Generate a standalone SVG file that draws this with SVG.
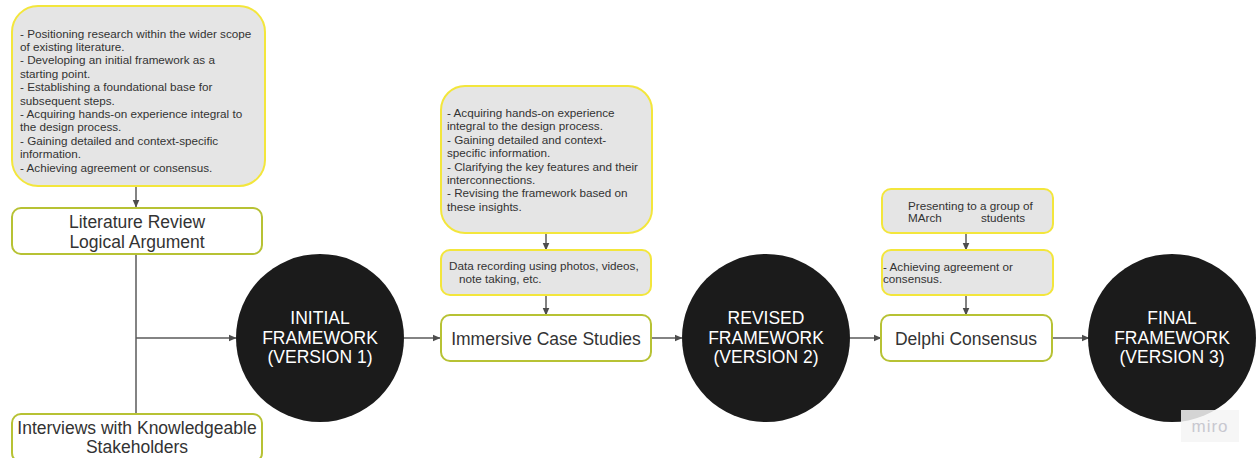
<svg xmlns="http://www.w3.org/2000/svg" width="1256" height="458" viewBox="0 0 1256 458">
  <defs>
    <marker id="arrow" viewBox="0 0 8 8" refX="7.5" refY="4" markerWidth="8" markerHeight="8" markerUnits="userSpaceOnUse" orient="auto">
      <path d="M0,0.5 L8,4 L0,7.5 Z" fill="#4d4d4d"/>
    </marker>
  </defs>
  <style>
    text { font-family: "Liberation Sans", Arial, sans-serif; }
    .note { fill: #e5e5e5; stroke: #f3e63c; stroke-width: 2; }
    .box { fill: #ffffff; stroke: #b7c234; stroke-width: 2; }
    .circle { fill: #1b1b1b; }
    .nt { font-size: 11.7px; fill: #333333; }
    .bt { font-size: 17.5px; fill: #333333; text-anchor: middle; }
    .ct { font-size: 17.5px; fill: #ffffff; text-anchor: middle; }
    .link { fill: none; stroke: #5a5a5a; stroke-width: 1.5; }
  </style>
  <rect width="1256" height="458" fill="#ffffff"/>

  <!-- connectors -->
  <g id="connectors">
    <path class="link" d="M136,186 V207" marker-end="url(#arrow)"/>
    <path class="link" d="M136,254 V414"/>
    <path class="link" d="M136,338 H236" marker-end="url(#arrow)"/>
    <path class="link" d="M404,338 H440" marker-end="url(#arrow)"/>
    <path class="link" d="M546,233 V250" marker-end="url(#arrow)"/>
    <path class="link" d="M546,295 V315" marker-end="url(#arrow)"/>
    <path class="link" d="M651,338 H682" marker-end="url(#arrow)"/>
    <path class="link" d="M850,338 H881" marker-end="url(#arrow)"/>
    <path class="link" d="M966,233 V250" marker-end="url(#arrow)"/>
    <path class="link" d="M966,295 V315" marker-end="url(#arrow)"/>
    <path class="link" d="M1052,338 H1089" marker-end="url(#arrow)"/>
  </g>

  <!-- goals of the first stage -->
  <g id="note-literature">
    <rect class="note" x="12" y="6" width="253" height="180" rx="26"/>
    <text class="nt" x="20" y="37.5">- Positioning research within the wider scope</text>
    <text class="nt" x="20" y="50.9">of existing literature.</text>
    <text class="nt" x="20" y="64.3">- Developing an initial framework as a</text>
    <text class="nt" x="20" y="77.7">starting point.</text>
    <text class="nt" x="20" y="91.1">- Establishing a foundational base for</text>
    <text class="nt" x="20" y="104.5">subsequent steps.</text>
    <text class="nt" x="20" y="117.9">- Acquiring hands-on experience integral to</text>
    <text class="nt" x="20" y="131.3">the design process.</text>
    <text class="nt" x="20" y="144.7">- Gaining detailed and context-specific</text>
    <text class="nt" x="20" y="158.1">information.</text>
    <text class="nt" x="20" y="171.5">- Achieving agreement or consensus.</text>
  </g>

  <g id="literature-review">
    <rect class="box" x="12" y="208" width="250" height="46" rx="9"/>
    <text class="bt" x="137" y="228">Literature Review</text>
    <text class="bt" x="137" y="248">Logical Argument</text>
  </g>

  <g id="interviews">
    <rect class="box" x="12" y="414" width="250" height="48" rx="9"/>
    <text class="bt" x="137" y="434">Interviews with Knowledgeable</text>
    <text class="bt" x="137" y="453">Stakeholders</text>
  </g>

  <g id="initial-framework">
    <circle class="circle" cx="320" cy="338" r="84"/>
    <text class="ct" x="320" y="324">INITIAL</text>
    <text class="ct" x="320" y="344">FRAMEWORK</text>
    <text class="ct" x="320" y="363">(VERSION 1)</text>
  </g>

  <!-- goals of the case studies -->
  <g id="note-case-studies">
    <rect class="note" x="441" y="86" width="211" height="147" rx="24"/>
    <text class="nt" x="447" y="117">- Acquiring hands-on experience</text>
    <text class="nt" x="447" y="130.4">integral to the design process.</text>
    <text class="nt" x="447" y="143.8">- Gaining detailed and context-</text>
    <text class="nt" x="447" y="157.2">specific information.</text>
    <text class="nt" x="447" y="170.6">- Clarifying the key features and their</text>
    <text class="nt" x="447" y="184">interconnections.</text>
    <text class="nt" x="447" y="197.4">- Revising the framework based on</text>
    <text class="nt" x="447" y="210.8">these insights.</text>
  </g>

  <g id="note-data-recording">
    <rect class="note" x="441" y="250" width="210" height="45" rx="9"/>
    <text class="nt" x="449" y="270">Data recording using photos, videos,</text>
    <text class="nt" x="459" y="283">note taking, etc.</text>
  </g>

  <g id="immersive-case-studies">
    <rect class="box" x="441" y="315" width="210" height="46" rx="9"/>
    <text class="bt" x="546" y="344.5">Immersive Case Studies</text>
  </g>

  <g id="revised-framework">
    <circle class="circle" cx="766" cy="338" r="84"/>
    <text class="ct" x="766" y="324">REVISED</text>
    <text class="ct" x="766" y="344">FRAMEWORK</text>
    <text class="ct" x="766" y="363">(VERSION 2)</text>
  </g>

  <g id="note-presenting">
    <rect class="note" x="882" y="189" width="171" height="44" rx="9"/>
    <text class="nt" x="908" y="210">Presenting to a group of</text>
    <text class="nt" x="908" y="222">MArch</text>
    <text class="nt" x="981" y="222">students</text>
  </g>

  <g id="note-agreement">
    <rect class="note" x="882" y="250" width="171" height="45" rx="9"/>
    <text class="nt" x="883" y="271">- Achieving agreement or</text>
    <text class="nt" x="883" y="283">consensus.</text>
  </g>

  <g id="delphi-consensus">
    <rect class="box" x="881" y="315" width="171" height="46" rx="9"/>
    <text class="bt" x="966" y="344.5">Delphi Consensus</text>
  </g>

  <g id="final-framework">
    <circle class="circle" cx="1172" cy="338" r="84"/>
    <text class="ct" x="1172" y="324">FINAL</text>
    <text class="ct" x="1172" y="344">FRAMEWORK</text>
    <text class="ct" x="1172" y="363">(VERSION 3)</text>
  </g>

  <!-- board badge -->
  <g id="badge">
    <rect x="1181" y="410" width="58" height="32" fill="#f4f4f4" opacity="0.85"/>
    <text x="1210" y="432" font-size="17" fill="#c8c8d0" text-anchor="middle" letter-spacing="1">miro</text>
  </g>
</svg>
